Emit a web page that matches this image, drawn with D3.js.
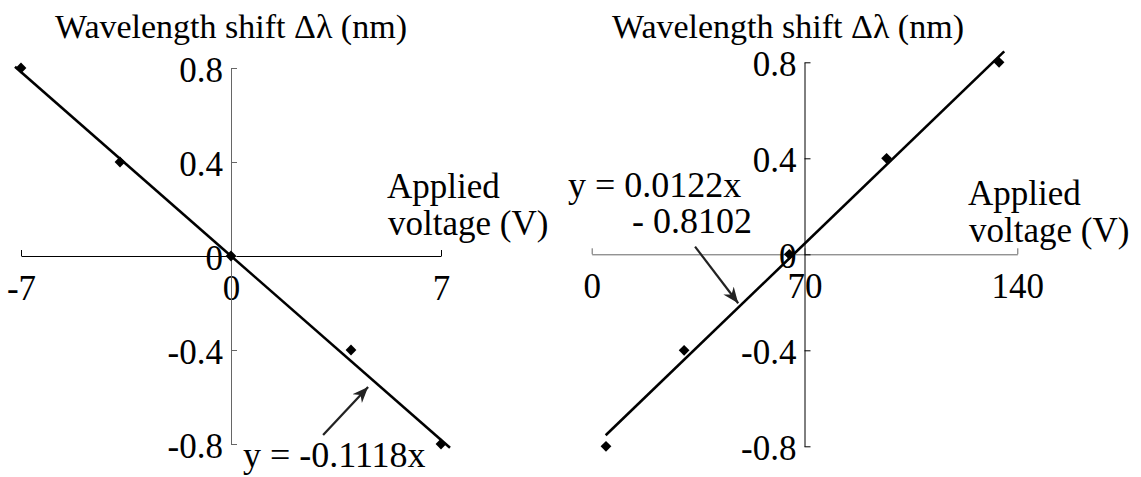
<!DOCTYPE html>
<html>
  <head>
    <script src="https://cdnjs.cloudflare.com/ajax/libs/d3/7.8.5/d3.min.js"></script>
    <style type="text/css">
      body {
        margin: 0;
        padding: 0;
        background: #fff;
      }
    </style>
  </head>
  <body>
    <div id="chart"></div>
    <script type="text/javascript">
    const FONT = 'Liberation Serif';
    const FONT_SIZE = 35;

    // left panel: shift vs voltage (-7..7 V)
    const leftVoltage = [-7, -3.7, 0, 4, 7];
    const leftShift = [0.8, 0.4, 0, -0.4, -0.8];
    const leftFit = [-0.1118, 0];          // slope, intercept
    const leftFitSpan = [-7.2, 7.3];
    const leftXTicks = [-7, 0, 7];

    // right panel: shift vs voltage (0..140 V)
    const rightVoltage = [4.7, 30.4, 65, 97, 134];
    const rightShift = [-0.8, -0.4, 0, 0.4, 0.8];
    const rightFit = [0.0122, -0.8102];
    const rightFitSpan = [4.6, 135.7];
    const rightXTicks = [0, 70, 140];

    const yTicks = [0.8, 0.4, 0, -0.4, -0.8];

    const svg = d3.select('#chart')
      .append('svg')
      .attr('width', 1141)
      .attr('height', 477);

    const defs = svg.append('defs');
    defs.append('marker')
      .attr('id', 'head')
      .attr('viewBox', '-16 -7 18 14')
      .attr('markerUnits', 'userSpaceOnUse')
      .attr('markerWidth', 18)
      .attr('markerHeight', 14)
      .attr('refX', 0)
      .attr('refY', 0)
      .attr('orient', 'auto')
      .append('path')
      .attr('d', 'M0,0 L-16,-6.5 L-11,0 L-16,6.5 Z')
      .attr('fill', '#222');

    drawPanel({
      x: d3.scaleLinear().domain([-7, 7]).range([21, 441]),
      y: d3.scaleLinear().domain([-0.8, 0.8]).range([444, 68]),
      voltage: leftVoltage, shift: leftShift,
      fit: leftFit, span: leftFitSpan, xTicks: leftXTicks,
      xColor: '#000', yColor: '#666',
      arrow: [[3.07, -0.762], [4.57, -0.557]],
      eq: [['y = -0.1118x', 243, 467]],
      xLabel: [387, 198],
      titleX: 231
    });

    drawPanel({
      x: d3.scaleLinear().domain([0, 140]).range([591.7, 1017.3]),
      y: d3.scaleLinear().domain([-0.8, 0.8]).range([446.3, 62.3]),
      voltage: rightVoltage, shift: rightShift,
      fit: rightFit, span: rightFitSpan, xTicks: rightXTicks,
      xColor: '#666', yColor: '#000',
      arrow: [[34, 0.032], [48.2, -0.204]],
      eq: [['y = 0.0122x', 568, 197], ['- 0.8102', 632, 233]],
      xLabel: [968, 205],
      titleX: 788
    });

    function label(g, x, y, t, size) {
      return g.append('text')
        .attr('x', x)
        .attr('y', y)
        .attr('font-family', FONT)
        .attr('font-size', size || FONT_SIZE)
        .attr('fill', '#000')
        .text(t);
    }

    function drawPanel(p) {
      const g = svg.append('g');
      const x0 = p.x(p.x.domain()[0] < 0 ? 0 : (p.x.domain()[0] + p.x.domain()[1]) / 2);
      const y0 = p.y(0);

      // x axis, ticks pointing up, labels below
      const xAxis = g.append('g')
        .attr('transform', `translate(0,${y0})`)
        .call(d3.axisBottom(p.x)
          .tickValues(p.xTicks)
          .tickSizeInner(-6)
          .tickSizeOuter(0)
          .tickPadding(19)
          .tickFormat(d => String(d)));
      xAxis.attr('font-family', FONT).attr('font-size', FONT_SIZE);
      xAxis.selectAll('path, line').attr('stroke', p.xColor);
      xAxis.selectAll('text').attr('fill', '#000');

      // y axis through the middle, ticks pointing right
      const yAxis = g.append('g')
        .attr('transform', `translate(${x0},0)`)
        .call(d3.axisLeft(p.y)
          .tickValues(yTicks)
          .tickSizeInner(-6)
          .tickSizeOuter(0)
          .tickPadding(8)
          .tickFormat(d => String(d)));
      yAxis.attr('font-family', FONT).attr('font-size', FONT_SIZE);
      yAxis.selectAll('path, line').attr('stroke', p.yColor);
      yAxis.selectAll('text')
        .attr('fill', '#000')
        .attr('dy', '0.39em');

      // fitted line
      const fitLine = d3.line()
        .x(d => p.x(d))
        .y(d => p.y(p.fit[0] * d + p.fit[1]));
      g.append('path')
        .datum(p.span)
        .attr('d', fitLine)
        .attr('fill', 'none')
        .attr('stroke', '#000')
        .attr('stroke-width', 2.6);

      // data points as diamonds
      const diamond = d3.symbol(d3.symbolSquare, 58);
      g.selectAll('.pt')
        .data(p.voltage)
        .enter()
        .append('path')
        .attr('class', 'pt')
        .attr('d', diamond)
        .attr('transform', (d, i) => `translate(${p.x(d)},${p.y(p.shift[i])}) rotate(45)`)
        .attr('fill', '#000');

      // arrow to the fit
      g.append('line')
        .attr('x1', p.x(p.arrow[0][0]))
        .attr('y1', p.y(p.arrow[0][1]))
        .attr('x2', p.x(p.arrow[1][0]))
        .attr('y2', p.y(p.arrow[1][1]))
        .attr('stroke', '#222')
        .attr('stroke-width', 2.2)
        .attr('marker-end', 'url(#head)');

      p.eq.forEach(e => label(g, e[1], e[2], e[0], 36));

      label(g, p.xLabel[0], p.xLabel[1], 'Applied');
      label(g, p.xLabel[0] + 1, p.xLabel[1] + 37, 'voltage (V)');

      label(g, p.titleX, 38, 'Wavelength shift \u0394\u03bb (nm)', 34)
        .attr('text-anchor', 'middle');
    }
    </script>
  </body>
</html>
